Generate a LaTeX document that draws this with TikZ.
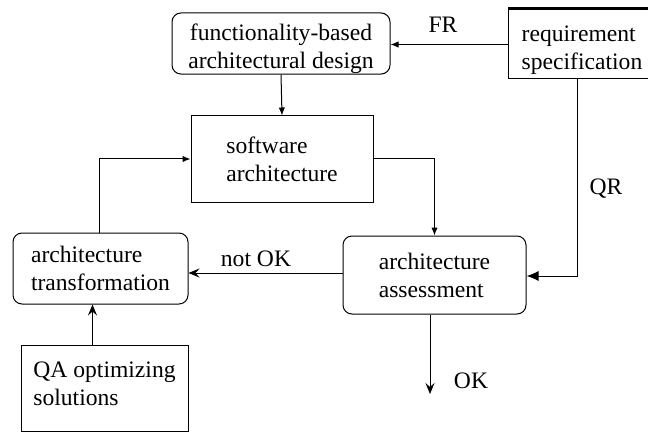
\documentclass[tikz,border=0pt]{standalone}
\usepackage{fontspec}
\setmainfont{Liberation Serif}
\usetikzlibrary{arrows.meta,calc}
\begin{document}
\begin{tikzpicture}[x=0.5pt,y=-0.5pt,
  box/.style={draw,line width=0.5pt,inner sep=0pt,align=left,
    font=\fontsize{11.8}{14}\selectfont},
  rbox/.style={box,rounded corners=4.5pt},
  lbl/.style={inner sep=0pt,font=\fontsize{11.8}{14}\selectfont},
  arr/.style={line width=0.5pt,-{Latex[length=4pt,width=3.2pt]}},
  arrb/.style={line width=0.5pt,-{Stealth[length=5.5pt,width=4.5pt,inset=2pt]}}]
\useasboundingbox (0,0) rectangle (648,433);
\clip (0,0) rectangle (648,433);
\node[rbox,minimum width=109pt,minimum height=30.5pt,align=center] (func) at (281,43.5) {\rule{0pt}{14pt}functionality-based\\architectural design};
\node[box,minimum width=74pt,minimum height=34.5pt] (req) at (582,44.5) {\rule{0pt}{13.5pt}requirement\\specification};
\draw[line width=1.4pt] ([yshift=0.4pt]req.north west) -- ([yshift=0.4pt]req.north east);
\node[box,minimum width=91pt,minimum height=43pt] (sw) at (282,159) {software\\architecture};
\node[rbox,minimum width=91.5pt,minimum height=39pt] (assess) at (434.5,275) {architecture\\assessment};
\node[rbox,minimum width=87.5pt,minimum height=35.5pt] (trans) at (100.5,268.5) {architecture\\transformation};
\node[box,minimum width=83.5pt,minimum height=43pt] (qa) at (104.5,388) {QA optimizing\\solutions\rule[-4pt]{0pt}{1pt}};
\coordinate (ok) at (430,394);
\node[lbl] (fr) at (443,25) {FR};
\node[lbl] (qr) at (606,189) {QR};
\node[lbl] (notok) at (256,259) {not OK};
\node[lbl] (oklbl) at (471,381) {OK};
\draw[arr] (req.west) -- (req.west -| func.east);
\draw[arr] (func.south) -- (sw.north);
\draw[arr] (sw.east) -| (assess.north);
\draw[arr] ([xshift=-0.75pt]trans.north) |- (sw.west);
\draw[arrb] ([yshift=1pt]assess.west) -- ([yshift=1pt]assess.west -| trans.east);
\draw[arr,-{Latex[length=6pt,width=5pt]}] ([xshift=-2.5pt]req.south) |- ([yshift=-0.5pt]assess.east);
\draw[arrb] ([xshift=-6pt]qa.north) -- ([xshift=-6pt]qa.north |- trans.south);
\draw[arrb] ([xshift=-2.25pt]assess.south) -- (ok);
\end{tikzpicture}
\end{document}
